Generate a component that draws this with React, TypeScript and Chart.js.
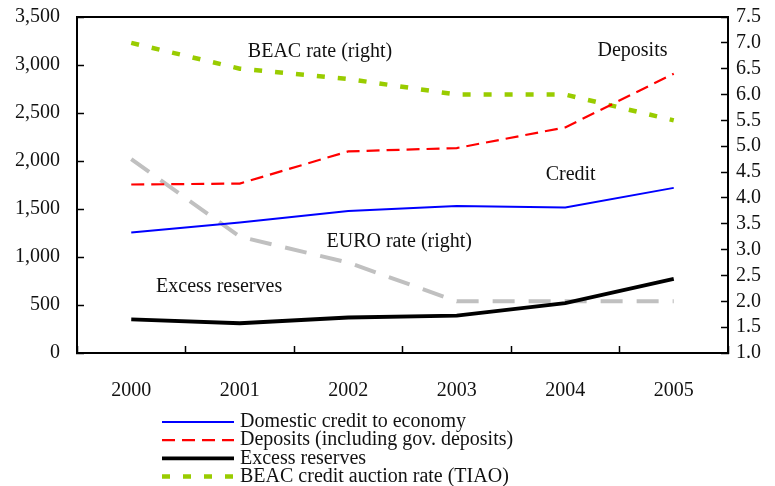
import React, { useEffect, useRef } from 'react';
import { Chart, registerables } from 'chart.js';

Chart.register(...registerables);

const years = ['2000', '2001', '2002', '2003', '2004', '2005'];
const domesticCredit = [1255, 1360, 1480, 1530, 1515, 1720];
const deposits = [1755, 1765, 2100, 2135, 2350, 2910];
const excessReserves = [350, 310, 370, 390, 520, 772];
const beacRate = [7.0, 6.5, 6.3, 6.0, 6.0, 5.5];
const euroRate = [4.75, 3.25, 2.75, 2.0, 2.0, 2.0];

const leftAxis = { min: 0, max: 3500, step: 500 };
const rightAxis = { min: 1.0, max: 7.5, step: 0.5 };

const legendLabels = [
  'Domestic credit to economy',
  'Deposits (including gov. deposits)',
  'Excess reserves',
  'BEAC credit auction rate (TIAO)',
];

// in-chart labels: x = category index, y = left-axis value
const annotationTexts = ['BEAC rate (right)', 'Deposits', 'Credit', 'EURO rate (right)', 'Excess reserves'];
const annotationX = [1.74, 4.62, 4.05, 2.47, 0.81];
const annotationY = [3140, 3150, 1860, 1155, 686];

const FONT = "'Liberation Serif', 'Times New Roman', serif";

const framePlugin = {
  id: 'frameAndLabels',
  afterDraw(chart: any) {
    const ctx = chart.ctx;
    const a = chart.chartArea;
    ctx.save();
    // top border
    ctx.strokeStyle = '#000';
    ctx.lineWidth = 2;
    ctx.beginPath();
    ctx.moveTo(a.left - 1, a.top);
    ctx.lineTo(a.right + 1, a.top);
    ctx.stroke();

    // annotations
    const xs = chart.scales.x;
    const ys = chart.scales.y;
    ctx.fillStyle = '#111';
    ctx.font = `20px ${FONT}`;
    ctx.textAlign = 'center';
    ctx.textBaseline = 'middle';
    annotationTexts.forEach((t, i) => {
      ctx.fillText(t, xs.getPixelForValue(annotationX[i]), ys.getPixelForValue(annotationY[i]));
    });

    // legend
    const order = [0, 1, 2, 3];
    const lx0 = 162;
    const lx1 = 234;
    const top = 422;
    const rowH = 18.2;
    ctx.textAlign = 'left';
    order.forEach((di, row) => {
      const ds = chart.data.datasets[di];
      const y = top + row * rowH;
      ctx.save();
      ctx.strokeStyle = ds.borderColor;
      ctx.lineWidth = ds.borderWidth;
      ctx.setLineDash(ds.borderDash || []);
      ctx.beginPath();
      ctx.moveTo(lx0, y);
      ctx.lineTo(lx1, y);
      ctx.stroke();
      ctx.restore();
      ctx.fillStyle = '#111';
      ctx.fillText(legendLabels[row], 240, y);
    });
    ctx.restore();
  },
};

export default function App() {
  const ref = useRef<HTMLCanvasElement>(null);
  useEffect(() => {
    if (!ref.current) return;
    const chart = new Chart(ref.current, {
      type: 'line',
      data: {
        labels: years,
        datasets: [
          {
            label: legendLabels[0],
            data: domesticCredit,
            borderColor: '#0000FF',
            borderWidth: 2,
            yAxisID: 'y',
            order: 2,
          },
          {
            label: legendLabels[1],
            data: deposits,
            borderColor: '#FF0000',
            borderWidth: 2.2,
            borderDash: [13, 7],
            yAxisID: 'y',
            order: 1,
          },
          {
            label: legendLabels[2],
            data: excessReserves,
            borderColor: '#000000',
            borderWidth: 3.8,
            yAxisID: 'y',
            order: 0,
          },
          {
            label: legendLabels[3],
            data: beacRate,
            borderColor: '#99CC00',
            borderWidth: 4.5,
            borderDash: [8, 13],
            yAxisID: 'y1',
            order: 3,
          },
          {
            label: 'EURO rate',
            data: euroRate,
            borderColor: '#C0C0C0',
            borderWidth: 4,
            borderDash: [22, 14],
            yAxisID: 'y1',
            order: 4,
          },
        ] as any,
      },
      options: {
        responsive: false,
        animation: false,
        elements: { point: { radius: 0 }, line: { tension: 0, fill: false } },
        layout: { padding: { top: 17, left: 0, right: 0, bottom: 0 } },
        plugins: { legend: { display: false }, tooltip: { enabled: false } },
        scales: {
          x: {
            type: 'category',
            offset: true,
            grid: {
              offset: true,
              drawOnChartArea: false,
              tickLength: -7,
              tickColor: '#000',
              tickWidth: 1.5,
            },
            border: { display: true, color: '#000', width: 2 },
            ticks: { color: '#111', font: { family: FONT, size: 20 }, padding: 33, maxRotation: 0, autoSkip: false },
            afterFit: (s: any) => {
              s.height = 133;
              s.paddingLeft = 0;
              s.paddingRight = 0;
            },
          },
          y: {
            position: 'left',
            min: leftAxis.min,
            max: leftAxis.max,
            grid: {
              drawOnChartArea: false,
              tickLength: -7,
              tickColor: '#000',
              tickWidth: 1.5,
            },
            border: { display: true, color: '#000', width: 2 },
            ticks: {
              stepSize: leftAxis.step,
              autoSkip: false,
              color: '#111',
              font: { family: FONT, size: 20 },
              padding: 24,
              callback: (v: any) => Number(v).toLocaleString('en-US'),
            },
            afterFit: (s: any) => {
              s.width = 77;
              s.paddingTop = 0;
              s.paddingBottom = 0;
            },
          },
          y1: {
            position: 'right',
            min: rightAxis.min,
            max: rightAxis.max,
            grid: {
              drawOnChartArea: false,
              tickLength: -7,
              tickColor: '#000',
              tickWidth: 1.5,
            },
            border: { display: true, color: '#000', width: 2 },
            ticks: {
              stepSize: rightAxis.step,
              autoSkip: false,
              color: '#111',
              font: { family: FONT, size: 20 },
              padding: 15,
              callback: (v: any) => Number(v).toFixed(1),
            },
            afterFit: (s: any) => {
              s.width = 47;
              s.paddingTop = 0;
              s.paddingBottom = 0;
            },
          },
        },
      } as any,
      plugins: [framePlugin],
    });
    return () => chart.destroy();
  }, []);
  return (
    <div style={{ position: 'fixed', left: 0, top: 0, width: 775, height: 486, background: '#fff' }}>
      <canvas ref={ref} width={775} height={486} />
    </div>
  );
}
